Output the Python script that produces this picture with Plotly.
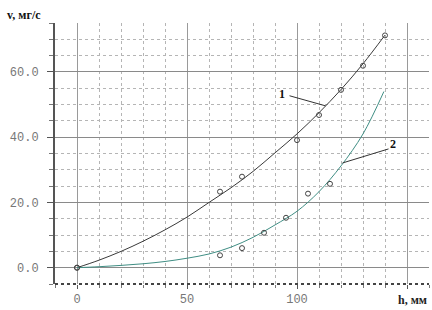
import plotly.graph_objects as go

# measured points
h1_pts = [0, 65, 75, 100, 110, 120, 130, 140]
v1_pts = [0, 23.3, 27.9, 39.1, 46.8, 54.5, 61.9, 71.2]
h2_pts = [0, 65, 75, 85, 95, 105, 115]
v2_pts = [0, 3.8, 6.0, 10.7, 15.3, 22.7, 25.7]

# fitted curves
h1_fit = [0, 10, 20, 30, 40, 50, 60, 70, 80, 90, 100, 110, 120, 130, 140]
v1_fit = [0, 2.3, 5.0, 8.1, 11.6, 15.5, 20.0, 24.5, 29.5, 35.2, 41.0, 47.5, 54.6, 62.5, 71.3]
h2_fit = [0, 10, 20, 30, 40, 50, 60, 70, 80, 90, 100, 110, 120, 130, 139.5]
v2_fit = [0, 0.3, 0.7, 1.2, 1.9, 2.9, 4.2, 6.3, 9.3, 13.1, 17.3, 23.3, 31.2, 41.0, 54.0]

x_tickvals = [0, 50, 100, 150]
x_ticktext = ["0", "50", "100", ""]
y_tickvals = [0, 20, 40, 60]
y_ticktext = ["0.0", "20.0", "40.0", "60.0"]

y_title = "v, мг/с"
x_title = "h, мм"
curve_labels = ["1", "2"]

fig = go.Figure()
fig.add_trace(go.Scatter(x=h1_fit, y=v1_fit, mode="lines", line=dict(color="#3a3a3a", width=1, shape="spline"), hoverinfo="skip"))
fig.add_trace(go.Scatter(x=h2_fit, y=v2_fit, mode="lines", line=dict(color="#3f8e84", width=1, shape="spline"), hoverinfo="skip"))
fig.add_trace(go.Scatter(x=h1_pts, y=v1_pts, mode="markers",
                         marker=dict(symbol="circle-open", size=5, color="#444", line=dict(width=1, color="#444"))))
fig.add_trace(go.Scatter(x=h2_pts, y=v2_pts, mode="markers",
                         marker=dict(symbol="circle-open", size=5, color="#444", line=dict(width=1, color="#444"))))

tickfont = dict(family="Liberation Mono", size=12, color="#777")

fig.update_xaxes(range=[-10, 160], tickmode="array", tickvals=x_tickvals, ticktext=x_ticktext,
                 showgrid=True, gridcolor="#9a9a9a", gridwidth=1, zeroline=False,
                 ticks="outside", ticklen=4, tickcolor="#555", tickfont=tickfont,
                 showline=False,
                 minor=dict(dtick=10, tick0=0, showgrid=True, gridcolor="#b5b5b5", griddash="dot", gridwidth=1,
                            ticks="outside", ticklen=3, tickcolor="#777"))
fig.update_yaxes(range=[-5, 75], tickmode="array", tickvals=y_tickvals, ticktext=y_ticktext,
                 showgrid=True, gridcolor="#8a8a8a", gridwidth=1, zeroline=False,
                 ticks="outside", ticklen=6, tickcolor="#555", tickfont=tickfont,
                 showline=True, linecolor="#555", linewidth=2, ticklabelstandoff=6,
                 minor=dict(dtick=5, tick0=0, showgrid=True, gridcolor="#b5b5b5", griddash="dot", gridwidth=1,
                            ticks="outside", ticklen=4, tickcolor="#777"))

# bottom border dotted thick line
fig.add_shape(type="line", xref="paper", yref="paper", x0=0, x1=1, y0=0, y1=0,
              line=dict(color="#444", width=2, dash="dot"))

# leader lines
fig.add_shape(type="line", x0=96.6, y0=52.7, x1=113, y1=49.6, line=dict(color="#333", width=1))
fig.add_shape(type="line", x0=120.7, y0=32.1, x1=141.6, y1=36.4, line=dict(color="#333", width=1))

fig.add_annotation(x=93, y=53.2, text="<b>" + curve_labels[0] + "</b>", showarrow=False,
                   font=dict(family="Liberation Serif", size=12, color="#111"))
fig.add_annotation(x=143.5, y=37.8, text="<b>" + curve_labels[1] + "</b>", showarrow=False,
                   font=dict(family="Liberation Serif", size=12, color="#111"))

fig.add_annotation(xref="paper", yref="paper", x=-0.135, y=1.031, xanchor="left", yanchor="middle",
                   text="<b>" + y_title + "</b>", showarrow=False,
                   font=dict(family="Liberation Serif", size=12, color="#111"))
fig.add_annotation(xref="paper", yref="paper", x=1.0, y=-0.061, xanchor="right", yanchor="middle",
                   text="<b>" + x_title + "</b>", showarrow=False,
                   font=dict(family="Liberation Serif", size=12, color="#222"))

fig.update_layout(width=432, height=310, margin=dict(l=55, r=3, t=23, b=26),
                  plot_bgcolor="white", paper_bgcolor="white", showlegend=False)

fig.write_html("out.html")
